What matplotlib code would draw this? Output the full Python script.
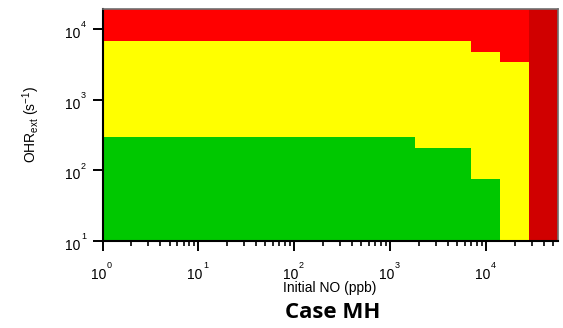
import numpy as np
import matplotlib.pyplot as plt
from matplotlib.ticker import LogLocator, NullLocator, NullFormatter
from matplotlib.transforms import blended_transform_factory

plt.rcParams['font.family'] = ['Liberation Sans', 'DejaVu Sans']
plt.rcParams['mathtext.fontset'] = 'custom'
plt.rcParams['mathtext.rm'] = 'Liberation Sans'
plt.rcParams['mathtext.it'] = 'Liberation Sans'

# regime boundaries vs. initial NO (ppb): each step runs from one edge to the next
no_edges = [1, 1800, 7000, 14000, 28000]
green_top = [300, 210, 75, 10]        # OHR_ext upper limit of green regime
yellow_top = [6700, 6700, 4700, 3400]  # OHR_ext upper limit of yellow regime
no_max = 56000
ohr_min, ohr_max = 10, 19500
x_decades = [0, 1, 2, 3, 4]
y_decades = [1, 2, 3, 4]

fig = plt.figure(figsize=(5.63, 3.28), dpi=100)
ax = fig.add_axes([102.5 / 563, 1 - 241 / 328, (557.7 - 102.5) / 563, (241 - 8.5) / 328])

g = green_top + [green_top[-1]]
yl = yellow_top + [yellow_top[-1]]
ax.fill_between(no_edges, ohr_min, ohr_max, step='post', color='#ff0000', lw=0)
ax.fill_between(no_edges, ohr_min, yl, step='post', color='#ffff00', lw=0)
ax.fill_between(no_edges, ohr_min, g, step='post', color='#00c800', lw=0)
ax.fill_between([no_edges[-1], no_max], ohr_min, ohr_max, color='#d00000', lw=0)

ax.set_xscale('log')
ax.set_yscale('log')
ax.set_xlim(1, no_max)
ax.set_ylim(ohr_min, ohr_max)

ax.xaxis.set_major_locator(LogLocator(base=10, numticks=10))
ax.xaxis.set_minor_locator(LogLocator(base=10, subs=np.arange(2, 10), numticks=20))
ax.yaxis.set_major_locator(LogLocator(base=10, numticks=10))
ax.yaxis.set_minor_locator(NullLocator())
ax.xaxis.set_major_formatter(NullFormatter())
ax.yaxis.set_major_formatter(NullFormatter())
ax.xaxis.set_minor_formatter(NullFormatter())

ax.tick_params(axis='both', which='major', direction='out', length=7.2, width=1.4,
               color='black')
ax.tick_params(axis='x', which='minor', direction='out', length=3.8, width=1.2)

# tick labels with the exponent raised well above the base
kw = dict(textcoords='offset pixels', annotation_clip=False, va='baseline')
xt = blended_transform_factory(ax.transData, ax.transAxes)
for d in x_decades:
    ax.annotate('10', (10.0 ** d, 0), xycoords=xt, xytext=(4, -38),
                ha='right', fontsize=10, **kw)
    ax.annotate(str(d), (10.0 ** d, 0), xycoords=xt, xytext=(4.5, -27),
                ha='left', fontsize=6.5, **kw)
yt = blended_transform_factory(ax.transAxes, ax.transData)
for d in y_decades:
    ax.annotate('10', (0, 10.0 ** d), xycoords=yt, xytext=(-22, -9),
                ha='right', fontsize=10, **kw)
    ax.annotate(str(d), (0, 10.0 ** d), xycoords=yt, xytext=(-21.5, 1.6),
                ha='left', fontsize=6.5, **kw)

for side in ['left', 'bottom']:
    ax.spines[side].set_linewidth(1.5)
    ax.spines[side].set_color('black')
for side in ['top', 'right']:
    ax.spines[side].set_linewidth(1.2)
    ax.spines[side].set_color('#707070')

ax.set_xlabel('Initial NO (ppb)', fontsize=10, va='center')
ax.xaxis.set_label_coords(0.5, (241 - 288) / 232.5)
ax.set_ylabel(r'OHR$_{\mathregular{ext}}$ (s$^{\mathregular{-1}}$)', fontsize=10, va='center')
ax.yaxis.set_label_coords((31 - 102.5) / 455.2, 0.5)

fig.text(333 / 563, 1 - 312 / 328, 'Case MH', fontsize=16, fontweight='bold',
         family=['Open Sans', 'DejaVu Sans'], ha='center', va='center')

fig.set_facecolor('white')
fig.savefig('out.png', dpi=100)
